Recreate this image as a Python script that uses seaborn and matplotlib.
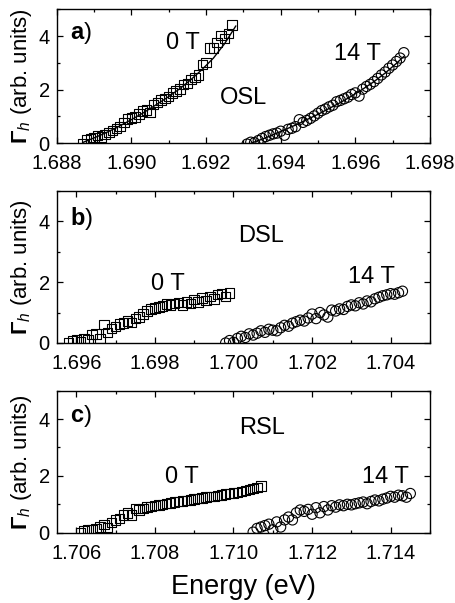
import matplotlib
matplotlib.use("Agg")
import matplotlib.pyplot as plt
from matplotlib.ticker import MultipleLocator, FormatStrFormatter
import numpy as np
import pandas as pd
import seaborn as sns

# ---- data ---------------------------------------------------------------
# panel a) OSL
osl_0t_x = [1.6887, 1.6888, 1.6889, 1.6890, 1.6891, 1.6892, 1.6893, 1.6894, 1.6895,
            1.6896, 1.6897, 1.6898, 1.6899, 1.6900, 1.6901, 1.6902, 1.6903, 1.6904,
            1.6905, 1.6906, 1.6907, 1.6908, 1.6909, 1.6910, 1.6911, 1.6912, 1.6913,
            1.6914, 1.6915, 1.6916, 1.6917, 1.6918, 1.6919, 1.6920, 1.6921, 1.6922,
            1.6923, 1.6924, 1.6925, 1.6926, 1.6927]
osl_0t_y = [0.0, 0.12, 0.18, 0.22, 0.28, 0.24, 0.33, 0.40, 0.47,
            0.56, 0.62, 0.78, 0.90, 0.95, 0.98, 1.10, 1.20, 1.24,
            1.15, 1.45, 1.52, 1.62, 1.66, 1.74, 1.88, 1.95, 2.02,
            2.20, 2.24, 2.38, 2.45, 2.55, 2.95, 3.02, 3.55, 3.55,
            3.75, 4.02, 3.90, 4.10, 4.42]
osl_14t_x = [1.6931, 1.6932, 1.6933, 1.6934, 1.6935, 1.6936, 1.6937, 1.6938, 1.6939,
             1.6940, 1.6941, 1.6942, 1.6943, 1.6944, 1.6945, 1.6946, 1.6947, 1.6948,
             1.6949, 1.6950, 1.6951, 1.6952, 1.6953, 1.6954, 1.6955, 1.6956, 1.6957,
             1.6958, 1.6959, 1.6960, 1.6961, 1.6962, 1.6963, 1.6964, 1.6965, 1.6966,
             1.6967, 1.6968, 1.6969, 1.6970, 1.6971, 1.6972, 1.6973]
osl_14t_y = [-0.03, 0.04, 0.02, 0.10, 0.18, 0.25, 0.30, 0.35, 0.38,
             0.45, 0.30, 0.52, 0.56, 0.62, 0.88, 0.78, 0.85, 0.93,
             1.02, 1.12, 1.22, 1.28, 1.36, 1.42, 1.55, 1.60, 1.66,
             1.72, 1.82, 1.88, 1.76, 2.02, 2.12, 2.20, 2.30, 2.42,
             2.55, 2.66, 2.80, 2.92, 3.05, 3.18, 3.38]
osl_0t_fit_x = [1.6887, 1.6890, 1.6893, 1.6896, 1.6900, 1.6903, 1.6906, 1.6910,
                1.6913, 1.6916, 1.6919, 1.6922, 1.6925, 1.6928]
osl_0t_fit_y = [0.03, 0.20, 0.38, 0.58, 0.88, 1.12, 1.38, 1.74,
                2.04, 2.38, 2.76, 3.18, 3.72, 4.38]
osl_14t_fit_x = [1.6932, 1.6935, 1.6938, 1.6941, 1.6944, 1.6947, 1.6950, 1.6953,
                 1.6956, 1.6959, 1.6962, 1.6965, 1.6968, 1.6971, 1.6973]
osl_14t_fit_y = [0.00, 0.15, 0.32, 0.50, 0.68, 0.88, 1.08, 1.30,
                 1.52, 1.76, 2.02, 2.30, 2.62, 2.98, 3.24]

# panel b) DSL
dsl_0t_x = [1.6958, 1.6959, 1.6960, 1.6961, 1.6962, 1.6963, 1.6964, 1.6965, 1.6966,
            1.6967, 1.6968, 1.6969, 1.6970, 1.6971, 1.6972, 1.6973, 1.6974, 1.6975,
            1.6976, 1.6977, 1.6978, 1.6979, 1.6980, 1.6981, 1.6982, 1.6983, 1.6984,
            1.6985, 1.6986, 1.6987, 1.6988, 1.6989, 1.6990, 1.6991, 1.6992, 1.6993,
            1.6994, 1.6995, 1.6996, 1.6997, 1.6998, 1.6999]
dsl_0t_y = [0.0, 0.06, 0.12, 0.05, 0.15, 0.10, 0.28, 0.30, 0.15,
            0.60, 0.35, 0.48, 0.55, 0.62, 0.66, 0.72, 0.68, 0.80,
            0.85, 0.95, 1.05, 1.12, 1.15, 1.18, 1.22, 1.28, 1.25,
            1.30, 1.32, 1.25, 1.35, 1.30, 1.42, 1.35, 1.48, 1.40,
            1.52, 1.45, 1.60, 1.62, 1.52, 1.64]
dsl_14t_x = [1.6998, 1.6999, 1.7000, 1.7001, 1.7002, 1.7003, 1.7004, 1.7005, 1.7006,
             1.7007, 1.7008, 1.7009, 1.7010, 1.7011, 1.7012, 1.7013, 1.7014, 1.7015,
             1.7016, 1.7017, 1.7018, 1.7019, 1.7020, 1.7021, 1.7022, 1.7023, 1.7024,
             1.7025, 1.7026, 1.7027, 1.7028, 1.7029, 1.7030, 1.7031, 1.7032, 1.7033,
             1.7034, 1.7035, 1.7036, 1.7037, 1.7038, 1.7039, 1.7040, 1.7041, 1.7042,
             1.7043]
dsl_14t_y = [0.0, 0.08, 0.02, 0.15, 0.22, 0.18, 0.30, 0.26, 0.32,
             0.40, 0.35, 0.45, 0.42, 0.40, 0.50, 0.58, 0.55, 0.65,
             0.70, 0.75, 0.72, 0.82, 0.95, 0.80, 1.00, 0.92, 0.85,
             1.08, 1.05, 1.12, 1.10, 1.20, 1.25, 1.22, 1.32, 1.28,
             1.38, 1.35, 1.45, 1.50, 1.55, 1.58, 1.62, 1.60, 1.65,
             1.70]

# panel c) RSL
rsl_0t_x = [1.7061, 1.7062, 1.7063, 1.7064, 1.7065, 1.7066, 1.7067, 1.7068, 1.7069,
            1.7070, 1.7071, 1.7072, 1.7073, 1.7074, 1.7075, 1.7076, 1.7077, 1.7078,
            1.7079, 1.7080, 1.7081, 1.7082, 1.7083, 1.7084, 1.7085, 1.7086, 1.7087,
            1.7088, 1.7089, 1.7090, 1.7091, 1.7092, 1.7093, 1.7094, 1.7095, 1.7096,
            1.7097, 1.7098, 1.7099, 1.7100, 1.7101, 1.7102, 1.7103, 1.7104, 1.7105,
            1.7106, 1.7107]
rsl_0t_y = [0.0, 0.08, 0.10, 0.12, 0.13, 0.20, 0.28, 0.18, 0.35,
            0.45, 0.50, 0.62, 0.70, 0.62, 0.86, 0.80, 0.85, 0.90,
            0.92, 0.96, 0.98, 1.00, 1.02, 1.05, 1.08, 1.10, 1.12,
            1.14, 1.15, 1.18, 1.20, 1.22, 1.25, 1.27, 1.28, 1.30,
            1.33, 1.36, 1.38, 1.40, 1.42, 1.45, 1.48, 1.52, 1.55,
            1.60, 1.65]
rsl_14t_x = [1.7105, 1.7106, 1.7107, 1.7108, 1.7109, 1.7110, 1.7111, 1.7112, 1.7113,
             1.7114, 1.7115, 1.7116, 1.7117, 1.7118, 1.7119, 1.7120, 1.7121, 1.7122,
             1.7123, 1.7124, 1.7125, 1.7126, 1.7127, 1.7128, 1.7129, 1.7130, 1.7131,
             1.7132, 1.7133, 1.7134, 1.7135, 1.7136, 1.7137, 1.7138, 1.7139, 1.7140,
             1.7141, 1.7142, 1.7143, 1.7144, 1.7145]
rsl_14t_y = [0.02, 0.15, 0.20, 0.25, 0.30, 0.10, 0.38, 0.20, 0.45,
             0.55, 0.45, 0.70, 0.80, 0.75, 0.82, 0.65, 0.88, 0.70,
             0.92, 0.80, 0.95, 0.90, 0.98, 0.95, 1.00, 0.98, 1.02,
             1.05, 1.08, 1.02, 1.10, 1.15, 1.12, 1.18, 1.22, 1.28,
             1.25, 1.32, 1.30, 1.25, 1.38]

panels = [
    dict(tag="a", name="OSL", xlim=(1.688, 1.698), xticks=(1.688, 1.698),
         s0=(osl_0t_x, osl_0t_y), s14=(osl_14t_x, osl_14t_y),
         fit0=(osl_0t_fit_x, osl_0t_fit_y), fit14=(osl_14t_fit_x, osl_14t_fit_y),
         rect=[0.1243, 0.7624, 0.8186, 0.2222],
         name_xy=(0.50, 0.34), t0_xy=(0.338, 0.75), t14_xy=(0.807, 0.67)),
    dict(tag="b", name="DSL", xlim=(1.6955, 1.7050), xticks=(1.696, 1.704),
         s0=(dsl_0t_x, dsl_0t_y), s14=(dsl_14t_x, dsl_14t_y),
         fit0=None, fit14=None,
         rect=[0.1243, 0.4312, 0.8186, 0.2526],
         name_xy=(0.547, 0.70), t0_xy=(0.298, 0.39), t14_xy=(0.842, 0.43)),
    dict(tag="c", name="RSL", xlim=(1.7055, 1.7150), xticks=(1.706, 1.714),
         s0=(rsl_0t_x, rsl_0t_y), s14=(rsl_14t_x, rsl_14t_y),
         fit0=None, fit14=None,
         rect=[0.1243, 0.1166, 0.8186, 0.2355],
         name_xy=(0.55, 0.735), t0_xy=(0.335, 0.39), t14_xy=(0.88, 0.39)),
]

sns.set_theme(style="ticks")
plt.rcParams["font.family"] = ["Liberation Sans", "DejaVu Sans"]
plt.rcParams["mathtext.fontset"] = "custom"
plt.rcParams["mathtext.rm"] = "Liberation Sans"
plt.rcParams["mathtext.it"] = "Liberation Sans:italic"
plt.rcParams["mathtext.bf"] = "Liberation Sans:bold"
for key in ("text.color", "axes.labelcolor", "xtick.color", "ytick.color",
            "xtick.labelcolor", "ytick.labelcolor"):
    plt.rcParams[key] = "black"

fig = plt.figure(figsize=(4.56, 6.03), dpi=100)
fig.patch.set_facecolor("white")

for p in panels:
    ax = fig.add_axes(p["rect"])
    x0, y0 = p["s0"]
    x14, y14 = p["s14"]
    sns.scatterplot(x=x0, y=y0, marker="s", s=46, facecolor="none",
                    edgecolor="black", linewidth=0.8, ax=ax, zorder=3)
    sns.scatterplot(x=x14, y=y14, marker="o", s=54, facecolor="none",
                    edgecolor="black", linewidth=0.8, ax=ax, zorder=3)
    for fit in (p["fit0"], p["fit14"]):
        if fit is not None:
            sns.lineplot(x=fit[0], y=fit[1], color="black", lw=1.0,
                         sort=False, estimator=None, ax=ax, zorder=4)

    ax.set_xlim(*p["xlim"])
    ax.set_ylim(0, 5)
    ax.set_xticks(np.arange(p["xticks"][0], p["xticks"][1] + 1e-6, 0.002))
    ax.xaxis.set_major_formatter(FormatStrFormatter("%.3f"))
    ax.xaxis.set_minor_locator(MultipleLocator(0.001))
    ax.set_yticks([0, 2, 4])
    ax.yaxis.set_minor_locator(MultipleLocator(1))
    ax.tick_params(which="both", direction="in", top=True, right=True,
                   colors="black", width=0.9)
    ax.tick_params(which="major", length=4.5, labelsize=14.5)
    ax.tick_params(axis="x", which="major", pad=8)
    ax.tick_params(axis="y", which="major", pad=5)
    ax.tick_params(which="minor", length=2.5)
    for sp in ax.spines.values():
        sp.set_linewidth(1.0)
        sp.set_color("black")

    ax.set_ylabel(r"$\mathbf{\Gamma}_{h}$ (arb. units)", fontsize=16, labelpad=3)
    ax.set_xlabel("")
    ax.text(0.035, 0.82, r"$\mathbf{" + p["tag"] + "}$)", transform=ax.transAxes,
            fontsize=17, ha="left", va="center")
    ax.text(*p["name_xy"], p["name"], transform=ax.transAxes,
            fontsize=17, ha="center", va="center")
    ax.text(*p["t0_xy"], "0 T", transform=ax.transAxes,
            fontsize=17, ha="center", va="center")
    ax.text(*p["t14_xy"], "14 T", transform=ax.transAxes,
            fontsize=17, ha="center", va="center")

ax.set_xlabel("Energy (eV)", fontsize=19.5, labelpad=8)

fig.savefig("out.png", dpi=100, facecolor="white")
